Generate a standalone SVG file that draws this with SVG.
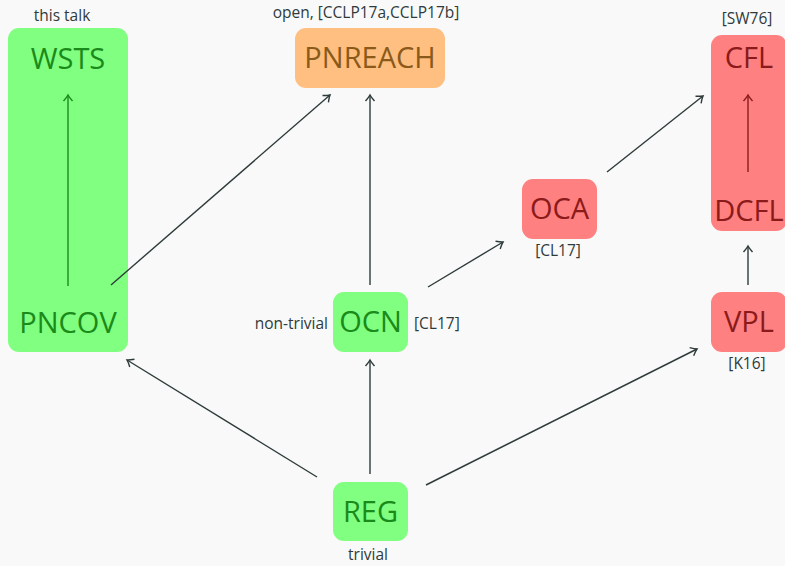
<svg xmlns="http://www.w3.org/2000/svg" width="785" height="566" viewBox="0 0 785 566">
  <style>
    text { font-family: "Open Sans", "DejaVu Sans", sans-serif; }
    .big { font-size: 29px; text-anchor: middle; }
    .small { font-size: 15.5px; fill: #2f3b3b; }
    .green { fill: #80ff80; }
    .orange { fill: #ffbf80; }
    .red { fill: #ff8080; }
    .tg { fill: #1a8a1a; }
    .to { fill: #8a5a1a; }
    .tr { fill: #8b1a1a; }
    .edge { stroke: #2f3b3b; stroke-width: 1.4; fill: none; marker-end: url(#arr); }
  </style>
  <defs>
    <marker id="arr" viewBox="-8 -6 10 12" markerWidth="10" markerHeight="12" refX="0" refY="0" orient="auto" markerUnits="userSpaceOnUse">
      <path d="M -6 -4.5 Q -2 -1 0 0 Q -2 1 -6 4.5" fill="none" stroke="#2f3b3b" stroke-width="1.4"/>
    </marker>
    <marker id="arrg" viewBox="-8 -6 10 12" markerWidth="10" markerHeight="12" refX="0" refY="0" orient="auto" markerUnits="userSpaceOnUse">
      <path d="M -6 -4.5 Q -2 -1 0 0 Q -2 1 -6 4.5" fill="none" stroke="#1a8a1a" stroke-width="1.4"/>
    </marker>
    <marker id="arrr" viewBox="-8 -6 10 12" markerWidth="10" markerHeight="12" refX="0" refY="0" orient="auto" markerUnits="userSpaceOnUse">
      <path d="M -6 -4.5 Q -2 -1 0 0 Q -2 1 -6 4.5" fill="none" stroke="#8b1a1a" stroke-width="1.4"/>
    </marker>
  </defs>
  <rect width="785" height="566" fill="#f9f9f9"/>

  <!-- WSTS over PNCOV -->
  <g id="wsts-pncov">
    <rect class="green" x="8" y="28" width="120" height="324" rx="11"/>
    <text class="big tg" x="68" y="69">WSTS</text>
    <text class="big tg" x="68" y="333">PNCOV</text>
    <line x1="68" y1="286" x2="68" y2="95" stroke="#1a8a1a" stroke-width="1.4" marker-end="url(#arrg)"/>
    <text class="small" x="62" y="21" text-anchor="middle">this talk</text>
  </g>

  <!-- PNREACH -->
  <g id="pnreach">
    <rect class="orange" x="295" y="28" width="150" height="60" rx="11"/>
    <text class="big to" x="370" y="68">PNREACH</text>
    <text class="small" x="366" y="18" text-anchor="middle">open, [CCLP17a,CCLP17b]</text>
  </g>

  <!-- CFL over DCFL -->
  <g id="cfl-dcfl">
    <rect class="red" x="711" y="35" width="76" height="196" rx="11"/>
    <text class="big tr" x="749" y="68">CFL</text>
    <text class="big tr" x="749" y="221">DCFL</text>
    <line x1="748" y1="172" x2="748" y2="95" stroke="#8b1a1a" stroke-width="1.4" marker-end="url(#arrr)"/>
    <text class="small" x="747" y="24" text-anchor="middle">[SW76]</text>
  </g>

  <!-- OCA -->
  <g id="oca">
    <rect class="red" x="522" y="179" width="75" height="60" rx="11"/>
    <text class="big tr" x="559.5" y="219">OCA</text>
    <text class="small" x="558" y="256" text-anchor="middle">[CL17]</text>
  </g>

  <!-- OCN -->
  <g id="ocn">
    <rect class="green" x="333" y="292" width="75" height="60" rx="11"/>
    <text class="big tg" x="370.5" y="332">OCN</text>
    <text class="small" x="328" y="329" text-anchor="end">non-trivial</text>
    <text class="small" x="414" y="329">[CL17]</text>
  </g>

  <!-- VPL -->
  <g id="vpl">
    <rect class="red" x="711" y="292" width="76" height="60" rx="11"/>
    <text class="big tr" x="749" y="332">VPL</text>
    <text class="small" x="747" y="369" text-anchor="middle">[K16]</text>
  </g>

  <!-- REG -->
  <g id="reg">
    <rect class="green" x="333" y="482" width="75" height="59" rx="11"/>
    <text class="big tg" x="370.5" y="522">REG</text>
    <text class="small" x="368" y="560" text-anchor="middle">trivial</text>
  </g>

  <!-- connectors -->
  <g id="edges">
    <line class="edge" x1="111" y1="285" x2="330" y2="95"/>
    <line class="edge" x1="370" y1="285" x2="370" y2="95"/>
    <line class="edge" x1="428" y1="287" x2="503" y2="242"/>
    <line class="edge" x1="607" y1="172" x2="703" y2="96"/>
    <line class="edge" x1="748" y1="285" x2="748" y2="246"/>
    <line class="edge" x1="317" y1="477" x2="127" y2="360"/>
    <line class="edge" x1="370" y1="474" x2="370" y2="360"/>
    <line class="edge" x1="426" y1="485" x2="697" y2="349"/>
  </g>
</svg>
